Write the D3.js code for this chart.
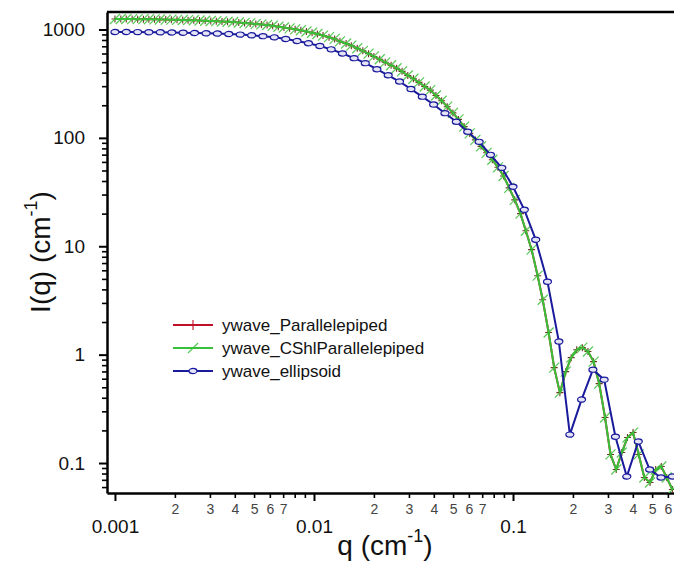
<!DOCTYPE html>
<html>
<head>
<meta charset="utf-8">
<script src="https://cdn.jsdelivr.net/npm/d3@7"></script>
<style>
  body { margin: 0; background: #fff; }
  svg { display: block; }
  text { font-family: "Liberation Sans", Arial, sans-serif; }
</style>
</head>
<body>
<svg id="chart" width="674" height="565"></svg>
<script>
// q grid of the two parallelepiped waves (100 points)
const qPar = [0.00100, 0.00107, 0.00114, 0.00122, 0.00130, 0.00139, 0.00148, 0.00158, 0.00168, 0.00180,
  0.00192, 0.00205, 0.00219, 0.00233, 0.00249, 0.00266, 0.00284, 0.00303, 0.00323, 0.00345,
  0.00368, 0.00393, 0.00419, 0.00448, 0.00478, 0.00510, 0.00544, 0.00581, 0.00620, 0.00662,
  0.00706, 0.00754, 0.00804, 0.00859, 0.00916, 0.00978, 0.0104, 0.0111, 0.0119, 0.0127,
  0.0135, 0.0145, 0.0154, 0.0165, 0.0176, 0.0188, 0.0200, 0.0214, 0.0228, 0.0244,
  0.0260, 0.0277, 0.0296, 0.0316, 0.0337, 0.0360, 0.0384, 0.0410, 0.0438, 0.0467,
  0.0499, 0.0532, 0.0568, 0.0606, 0.0647, 0.0691, 0.0737, 0.0787, 0.0840, 0.0896,
  0.0957, 0.102, 0.109, 0.116, 0.124, 0.133, 0.141, 0.151, 0.161, 0.172,
  0.184, 0.196, 0.209, 0.223, 0.238, 0.254, 0.271, 0.290, 0.309, 0.330,
  0.352, 0.376, 0.401, 0.428, 0.457, 0.488, 0.521, 0.556, 0.592, 0.632];

// ywave_Parallelepiped and ywave_CShlParallelepiped overlap exactly
const iParallelepiped = [1250, 1250, 1249, 1247, 1246, 1245, 1242, 1240, 1237, 1235,
  1232, 1228, 1224, 1220, 1216, 1210, 1205, 1198, 1193, 1185,
  1179, 1173, 1160, 1148, 1138, 1126, 1114, 1100, 1082, 1061,
  1043, 1024, 1004, 983, 959, 933, 909, 879, 849, 818,
  778, 743, 709, 671, 635, 598, 564, 531, 498, 468,
  439, 411, 376, 351, 325, 298, 276, 246, 220, 194,
  170, 148, 127, 110, 95.8, 83.5, 72.8, 62.8, 53.5, 44.5,
  34.6, 26.8, 20.0, 13.9, 9.3, 5.35, 3.21, 1.60, 0.759, 0.446,
  0.697, 0.938, 1.11, 1.16, 1.07, 0.862, 0.540, 0.263, 0.120, 0.0871,
  0.125, 0.172, 0.191, 0.120, 0.0735, 0.0661, 0.0871, 0.0928, 0.0735, 0.0570];
const iCShlParallelepiped = iParallelepiped.slice();

// q grid of the ellipsoid wave (50 points)
const qEll = [0.00100, 0.00114, 0.00130, 0.00148, 0.00169, 0.00193, 0.00220, 0.00251, 0.00287, 0.00327,
  0.00373, 0.00426, 0.00486, 0.00554, 0.00632, 0.00721, 0.00822, 0.00938, 0.0107, 0.0122,
  0.0139, 0.0159, 0.0181, 0.0207, 0.0236, 0.0269, 0.0307, 0.0350, 0.0399, 0.0455,
  0.0519, 0.0592, 0.0676, 0.0771, 0.0879, 0.100, 0.114, 0.130, 0.149, 0.170,
  0.193, 0.221, 0.252, 0.287, 0.327, 0.373, 0.426, 0.486, 0.554, 0.632];
const iEllipsoid = [948, 948, 946, 944, 942, 938, 934, 928, 922, 917,
  909, 897, 884, 868, 846, 818, 783, 746, 705, 656,
  601, 544, 489, 430, 378, 331, 282, 240, 203, 169,
  141, 114, 91.9, 69.7, 52.9, 35.4, 21.7, 11.5, 4.71, 1.32,
  0.183, 0.385, 0.727, 0.588, 0.175, 0.0751, 0.158, 0.0871, 0.0735, 0.0751];

const seriesNames = ["ywave_Parallelepiped", "ywave_CShlParallelepiped", "ywave_ellipsoid"];
const xMajorTicks = [0.001, 0.01, 0.1];
const xMajorLabels = ["0.001", "0.01", "0.1"];
const yMajorTicks = [0.1, 1, 10, 100, 1000];
const yMajorLabels = ["0.1", "1", "10", "100", "1000"];
const minorLabelled = [2, 3, 4, 5, 6, 7];

const svg = d3.select("#chart");
const plot = { left: 107, top: 12, right: 674, bottom: 493 };

const x = d3.scaleLog().domain([0.000912, 0.644]).range([plot.left, plot.right]);
const y = d3.scaleLog().domain([0.0529, 1450]).range([plot.bottom, plot.top]);

// minor tick positions (2..9 in every decade) inside the domain
function minorTicks(scale) {
  const [a, b] = scale.domain();
  const out = [];
  for (let e = -4; e <= 4; e++) {
    for (let m = 2; m <= 9; m++) {
      const v = m * Math.pow(10, e);
      if (v >= a && v <= b) out.push(v);
    }
  }
  return out;
}
const leadDigit = v => Math.round(v / Math.pow(10, Math.floor(Math.log10(v) + 1e-9)));

// ---- X axis
const gx = svg.append("g").attr("transform", "translate(0," + plot.bottom + ")");
gx.append("g")
  .call(d3.axisBottom(x).tickValues(minorTicks(x)).tickSize(5).tickSizeOuter(0)
    .tickFormat(d => minorLabelled.includes(leadDigit(d)) ? String(leadDigit(d)) : ""))
  .call(g => g.select(".domain").remove())
  .call(g => g.selectAll(".tick line").attr("stroke-width", 1.6))
  .call(g => g.selectAll(".tick text").attr("y", 11).attr("font-size", 14)
    .attr("fill", "#444").style("font-family", "Liberation Sans, Arial, sans-serif"));
gx.append("g")
  .call(d3.axisBottom(x).tickValues(xMajorTicks).tickSize(8).tickSizeOuter(0)
    .tickFormat((d, i) => xMajorLabels[i]))
  .call(g => g.select(".domain").attr("stroke-width", 2.5))
  .call(g => g.selectAll(".tick line").attr("stroke-width", 2))
  .call(g => g.selectAll(".tick text").attr("y", 27).attr("font-size", 19)
    .attr("fill", "#111").style("font-family", "Liberation Sans, Arial, sans-serif"));

// ---- Y axis
const gy = svg.append("g").attr("transform", "translate(" + plot.left + ",0)");
gy.append("g")
  .call(d3.axisLeft(y).tickValues(minorTicks(y)).tickSize(5).tickSizeOuter(0).tickFormat(""))
  .call(g => g.select(".domain").remove())
  .call(g => g.selectAll(".tick line").attr("stroke-width", 1.6));
gy.append("g")
  .call(d3.axisLeft(y).tickValues(yMajorTicks).tickSize(8).tickPadding(14).tickSizeOuter(0)
    .tickFormat((d, i) => yMajorLabels[i]))
  .call(g => g.select(".domain").attr("stroke-width", 2.5))
  .call(g => g.selectAll(".tick line").attr("stroke-width", 2))
  .call(g => g.selectAll(".tick text").attr("font-size", 19)
    .attr("fill", "#111").style("font-family", "Liberation Sans, Arial, sans-serif"));

// top frame line
svg.append("line")
  .attr("x1", plot.left).attr("x2", plot.right)
  .attr("y1", plot.top).attr("y2", plot.top)
  .attr("stroke", "#000").attr("stroke-width", 2.5);

// ---- axis titles
const xt = svg.append("text").attr("x", 385).attr("y", 555)
  .attr("text-anchor", "middle").attr("font-size", 28).attr("fill", "#111");
xt.append("tspan").text("q (cm");
xt.append("tspan").attr("font-size", 18).attr("dy", -13).text("-1");
xt.append("tspan").attr("dy", 13).text(")");

const yt = svg.append("text").attr("transform", "translate(50,252) rotate(-90)")
  .attr("text-anchor", "middle").attr("font-size", 28).attr("fill", "#111");
yt.append("tspan").text("I(q) (cm");
yt.append("tspan").attr("font-size", 18).attr("dy", -13).text("-1");
yt.append("tspan").attr("dy", 13).text(")");

// ---- series
svg.append("clipPath").attr("id", "clip").append("rect")
  .attr("x", plot.left).attr("y", plot.top)
  .attr("width", plot.right - plot.left).attr("height", plot.bottom - plot.top);

const series = [
  { name: seriesNames[0], q: qPar, v: iParallelepiped, color: "#c01028", marker: "plus" },
  { name: seriesNames[1], q: qPar, v: iCShlParallelepiped, color: "#38c038", marker: "slash" },
  { name: seriesNames[2], q: qEll, v: iEllipsoid, color: "#1a1a9c", marker: "ellipse" }
];

const line = d3.line().x(d => x(d[0])).y(d => y(d[1]));
const gData = svg.append("g").attr("clip-path", "url(#clip)");

function drawMarker(sel, kind, color, r) {
  if (kind === "plus") {
    sel.append("path").attr("d", `M-${r},0H${r}M0,-${r}V${r}`)
      .attr("stroke", color).attr("stroke-width", 1.1).attr("fill", "none");
  } else if (kind === "slash") {
    sel.append("path").attr("d", `M-${r},${r}L${r},-${r}`)
      .attr("stroke", color).attr("stroke-width", 1.2).attr("fill", "none").attr("opacity", 0.85);
  } else {
    sel.append("ellipse").attr("rx", 4).attr("ry", 2.6)
      .attr("stroke", color).attr("stroke-width", 1.2).attr("fill", "#e4e4f6");
  }
}

series.forEach((s, k) => {
  const pts = s.q.map((q, i) => [q, s.v[i]]);
  // the red wave sits under the green one, only its marker arms peek out
  const mColor = k === 0 ? "#6a3a20" : s.color;
  const r = k === 0 ? 3.5 : 5;
  gData.append("path").datum(pts)
    .attr("d", line)
    .attr("fill", "none")
    .attr("stroke", s.color)
    .attr("stroke-width", 2);
  gData.append("g").selectAll("g")
    .data(pts)
    .join("g")
    .attr("transform", d => "translate(" + x(d[0]) + "," + y(d[1]) + ")")
    .each(function () { drawMarker(d3.select(this), s.marker, mColor, r); });
});

// ---- legend
const legendRows = [325, 348, 371];
const legend = svg.append("g");
series.forEach((s, i) => {
  const row = legend.append("g").attr("transform", "translate(0," + legendRows[i] + ")");
  row.append("line").attr("x1", 173).attr("x2", 213)
    .attr("stroke", s.color).attr("stroke-width", 2);
  const m = row.append("g").attr("transform", "translate(193,0)");
  drawMarker(m, s.marker, s.color, 5);
  row.append("text").attr("x", 222).attr("dy", "0.35em")
    .attr("font-size", 17).attr("fill", "#111").text(s.name);
});
</script>
</body>
</html>
